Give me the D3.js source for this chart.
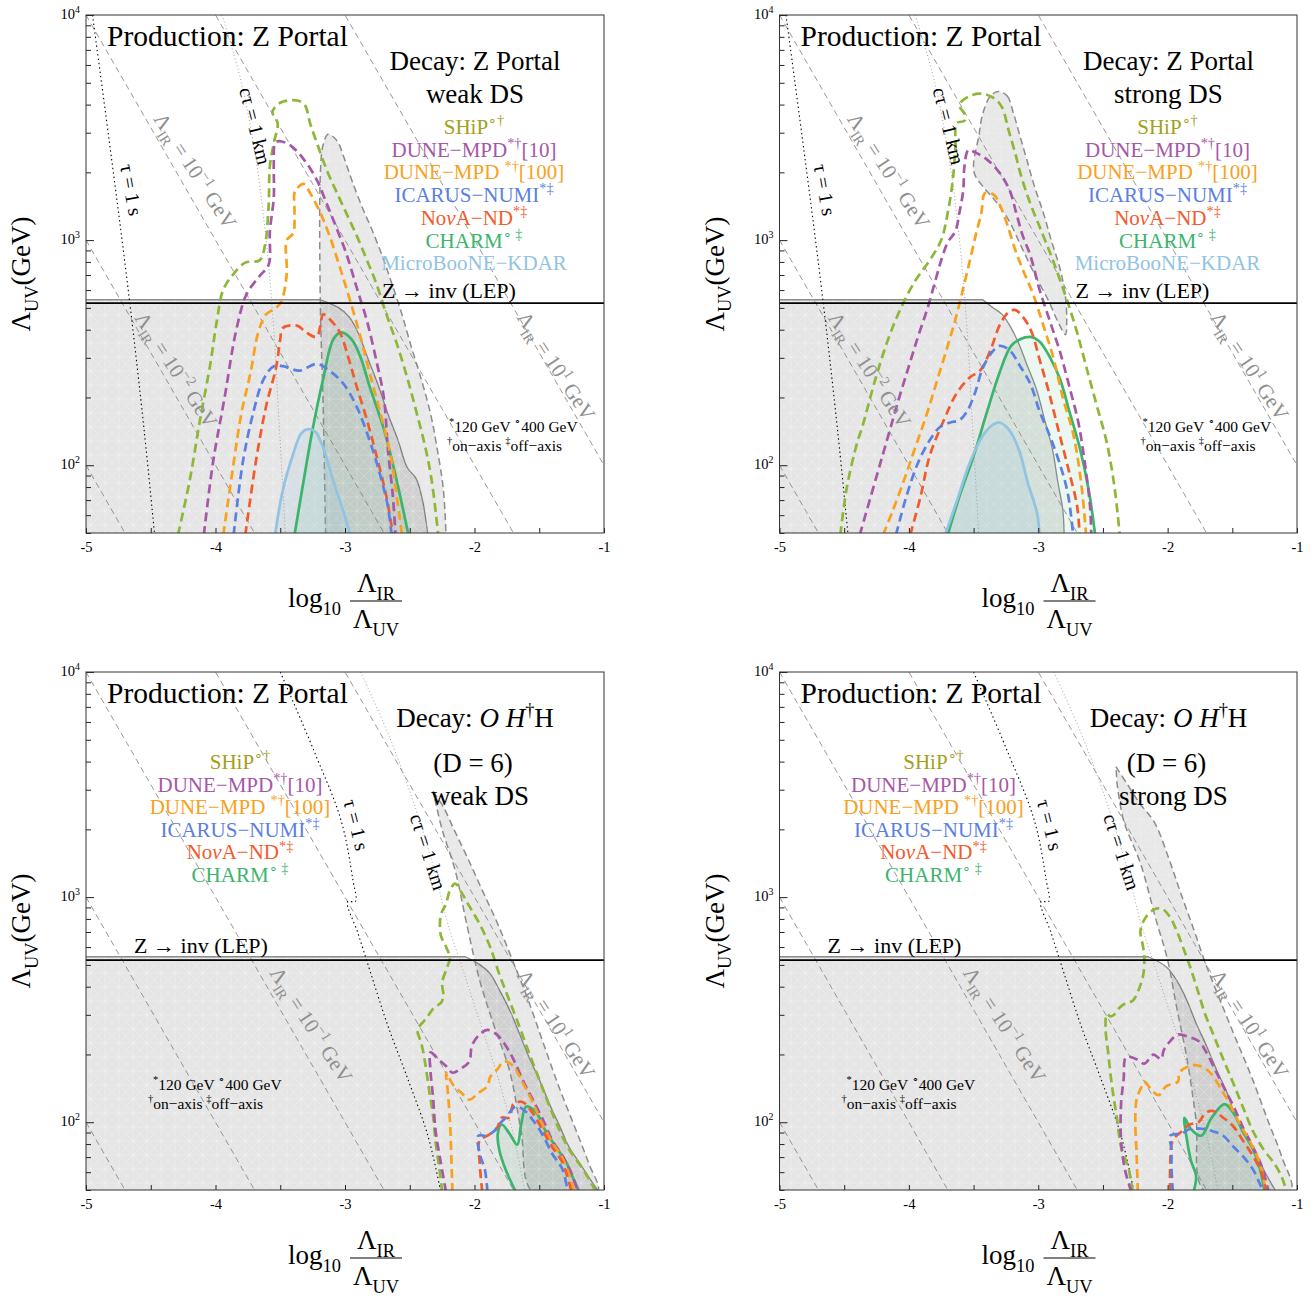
<!DOCTYPE html>
<html>
<head>
<meta charset="utf-8">
<script src="https://cdn.jsdelivr.net/npm/d3@7"></script>
<style>
  body { margin: 0; background: #fff; }
  text { font-family: "Liberation Serif", "Times New Roman", serif; }
</style>
</head>
<body>
<script>
// x = log10(Λ_IR/Λ_UV), y = log10(Λ_UV / GeV)
const xTicks = [-5, -4, -3, -2, -1];
const yDecades = [2, 3, 4];
const irExponents = [-3, -2, -1, 0, 1];   // guide lines Λ_IR = 10^k GeV
const lepLog = 2.72;                      // Z -> inv (LEP) bound
const lepTop = 2.735;                     // top of excluded region

// ---------- top-left: decay Z portal, weak DS
const p1Ship = [[-4.29,1.69],[-4.20,1.93],[-4.12,2.20],[-4.04,2.45],[-3.99,2.64],[-3.94,2.78],[-3.86,2.85],[-3.77,2.90],[-3.66,2.91],[-3.62,2.97],[-3.59,3.15],[-3.58,3.33],[-3.55,3.43],[-3.52,3.52],[-3.56,3.57],[-3.50,3.61],[-3.37,3.62],[-3.31,3.60],[-3.27,3.52],[-3.21,3.42],[-3.14,3.31],[-3.07,3.22],[-2.99,3.12],[-2.91,3.02],[-2.83,2.91],[-2.76,2.81],[-2.68,2.67],[-2.60,2.54],[-2.52,2.39],[-2.45,2.24],[-2.38,2.08],[-2.33,1.93],[-2.28,1.69]];
const p1Dune10 = [[-4.09,1.69],[-4.02,2.01],[-3.93,2.30],[-3.84,2.60],[-3.76,2.76],[-3.66,2.84],[-3.59,2.89],[-3.58,3.04],[-3.55,3.19],[-3.55,3.34],[-3.54,3.43],[-3.51,3.44],[-3.42,3.42],[-3.32,3.36],[-3.22,3.27],[-3.14,3.16],[-3.07,3.06],[-2.99,2.94],[-2.91,2.79],[-2.83,2.64],[-2.76,2.47],[-2.70,2.30],[-2.67,2.08],[-2.63,1.86],[-2.61,1.69]];
const p1Dune100 = [[-3.94,1.69],[-3.86,2.01],[-3.80,2.23],[-3.73,2.41],[-3.67,2.59],[-3.61,2.67],[-3.53,2.70],[-3.49,2.73],[-3.45,2.85],[-3.45,3.00],[-3.40,3.03],[-3.39,3.12],[-3.39,3.21],[-3.37,3.23],[-3.32,3.25],[-3.27,3.21],[-3.19,3.12],[-3.12,3.02],[-3.04,2.88],[-2.96,2.73],[-2.88,2.57],[-2.81,2.41],[-2.73,2.24],[-2.65,2.05],[-2.60,1.86],[-2.56,1.69]];
const p1Icarus = [[-3.86,1.69],[-3.79,2.01],[-3.71,2.23],[-3.63,2.38],[-3.55,2.44],[-3.48,2.44],[-3.35,2.42],[-3.22,2.45],[-3.12,2.42],[-3.01,2.36],[-2.91,2.26],[-2.81,2.11],[-2.73,1.96],[-2.67,1.82],[-2.64,1.69]];
const p1Nova = [[-3.77,1.69],[-3.69,2.01],[-3.61,2.26],[-3.53,2.44],[-3.50,2.56],[-3.48,2.61],[-3.37,2.62],[-3.30,2.59],[-3.22,2.57],[-3.19,2.62],[-3.17,2.67],[-3.12,2.65],[-3.04,2.59],[-2.97,2.47],[-2.91,2.35],[-2.83,2.20],[-2.76,2.05],[-2.68,1.86],[-2.63,1.69]];
const p1Charm = [[-3.39,1.69],[-3.32,1.93],[-3.25,2.16],[-3.17,2.38],[-3.09,2.56],[-3.03,2.59],[-2.95,2.56],[-2.88,2.48],[-2.81,2.35],[-2.70,2.16],[-2.60,1.93],[-2.51,1.69]];
const p1Micro = [[-3.54,1.69],[-3.48,1.89],[-3.40,2.05],[-3.34,2.14],[-3.29,2.16],[-3.23,2.15],[-3.17,2.08],[-3.09,1.93],[-3.01,1.79],[-2.96,1.69]];
const p1Lep = [[-3.19,2.735],[-3.05,2.70],[-2.97,2.66],[-2.90,2.59],[-2.82,2.47],[-2.74,2.35],[-2.67,2.23],[-2.59,2.11],[-2.52,1.99],[-2.45,1.94],[-2.40,1.84],[-2.36,1.69]];
const p1Band = [[-3.15,1.69],[-3.17,2.30],[-3.19,2.70],[-3.19,3.30],[-3.17,3.42],[-3.13,3.47],[-3.06,3.44],[-3.01,3.37],[-2.95,3.27],[-2.87,3.15],[-2.78,3.03],[-2.70,2.91],[-2.64,2.81],[-2.56,2.67],[-2.49,2.53],[-2.41,2.38],[-2.34,2.23],[-2.29,2.08],[-2.24,1.89],[-2.22,1.69]];

// ---------- top-right: decay Z portal, strong DS
const p2Ship = [[-4.53,1.69],[-4.48,1.90],[-4.40,2.10],[-4.36,2.17],[-4.26,2.38],[-4.16,2.56],[-4.06,2.70],[-3.95,2.82],[-3.84,2.91],[-3.75,3.00],[-3.70,3.12],[-3.66,3.27],[-3.64,3.42],[-3.63,3.52],[-3.57,3.53],[-3.57,3.56],[-3.61,3.60],[-3.53,3.64],[-3.43,3.65],[-3.34,3.63],[-3.28,3.59],[-3.23,3.49],[-3.18,3.39],[-3.13,3.28],[-3.06,3.16],[-2.99,3.06],[-2.92,2.96],[-2.88,2.90],[-2.83,2.82],[-2.77,2.72],[-2.70,2.59],[-2.63,2.44],[-2.55,2.27],[-2.47,2.10],[-2.41,1.90],[-2.37,1.69]];
const p2Dune10 = [[-4.38,1.69],[-4.25,1.95],[-4.16,2.13],[-4.08,2.29],[-4.00,2.44],[-3.93,2.57],[-3.86,2.69],[-3.80,2.81],[-3.75,2.91],[-3.70,2.99],[-3.64,3.04],[-3.61,3.12],[-3.58,3.22],[-3.57,3.33],[-3.54,3.40],[-3.49,3.39],[-3.40,3.36],[-3.30,3.30],[-3.22,3.22],[-3.17,3.12],[-3.12,3.02],[-3.06,2.93],[-2.99,2.78],[-2.91,2.64],[-2.83,2.50],[-2.76,2.35],[-2.69,2.19],[-2.64,2.01],[-2.60,1.82],[-2.59,1.69]];
const p2Dune100 = [[-4.20,1.69],[-4.13,1.79],[-4.04,1.93],[-3.95,2.08],[-3.86,2.23],[-3.78,2.38],[-3.70,2.53],[-3.63,2.67],[-3.57,2.81],[-3.52,2.93],[-3.48,3.03],[-3.44,3.12],[-3.41,3.21],[-3.34,3.20],[-3.30,3.16],[-3.24,3.07],[-3.18,2.96],[-3.12,2.87],[-3.04,2.76],[-2.96,2.62],[-2.88,2.47],[-2.81,2.30],[-2.73,2.14],[-2.67,1.93],[-2.63,1.69]];
const p2Icarus = [[-4.10,1.69],[-4.02,1.86],[-3.93,2.01],[-3.84,2.11],[-3.76,2.17],[-3.68,2.19],[-3.61,2.20],[-3.55,2.24],[-3.49,2.32],[-3.43,2.43],[-3.36,2.50],[-3.30,2.53],[-3.22,2.51],[-3.14,2.44],[-3.06,2.36],[-2.99,2.24],[-2.91,2.13],[-2.83,2.00],[-2.77,1.87],[-2.73,1.69]];
const p2Nova = [[-3.99,1.69],[-3.91,1.86],[-3.84,2.04],[-3.73,2.20],[-3.63,2.32],[-3.53,2.39],[-3.45,2.42],[-3.37,2.51],[-3.30,2.62],[-3.23,2.68],[-3.18,2.69],[-3.12,2.66],[-3.05,2.59],[-2.99,2.47],[-2.92,2.33],[-2.85,2.17],[-2.77,1.99],[-2.70,1.82],[-2.68,1.69]];
const p2Charm = [[-3.70,1.69],[-3.61,1.86],[-3.50,2.04],[-3.40,2.23],[-3.30,2.41],[-3.21,2.53],[-3.14,2.56],[-3.06,2.57],[-2.99,2.55],[-2.91,2.48],[-2.83,2.38],[-2.76,2.24],[-2.68,2.08],[-2.61,1.89],[-2.56,1.69]];
const p2Micro = [[-3.72,1.69],[-3.63,1.84],[-3.53,2.01],[-3.43,2.13],[-3.35,2.18],[-3.30,2.19],[-3.23,2.16],[-3.15,2.07],[-3.08,1.92],[-3.01,1.79],[-2.99,1.69]];
const p2Lep = [[-3.43,2.735],[-3.35,2.70],[-3.28,2.67],[-3.22,2.62],[-3.15,2.54],[-3.09,2.45],[-3.01,2.33],[-2.95,2.20],[-2.89,2.07],[-2.85,1.93],[-2.81,1.80],[-2.80,1.69]];
const p2Band = [[-3.31,3.66],[-3.24,3.64],[-3.19,3.56],[-3.14,3.46],[-3.09,3.36],[-3.03,3.24],[-2.96,3.12],[-2.90,3.00],[-2.83,2.87],[-2.79,2.75],[-2.78,2.64],[-2.79,2.58],[-2.85,2.64],[-2.92,2.73],[-3.03,2.85],[-3.13,2.97],[-3.23,3.09],[-3.34,3.18],[-3.43,3.24],[-3.49,3.29],[-3.50,3.34],[-3.46,3.46],[-3.43,3.56],[-3.37,3.64]];

// ---------- bottom-left: decay O H†H (D = 6), weak DS
const p3Ship = [[-2.25,1.69],[-2.27,1.79],[-2.30,1.91],[-2.32,2.03],[-2.35,2.14],[-2.38,2.26],[-2.41,2.35],[-2.44,2.41],[-2.39,2.45],[-2.35,2.48],[-2.31,2.51],[-2.26,2.53],[-2.24,2.56],[-2.25,2.62],[-2.21,2.69],[-2.19,2.73],[-2.22,2.78],[-2.26,2.83],[-2.26,2.92],[-2.22,2.97],[-2.19,3.03],[-2.15,3.06],[-2.10,3.02],[-2.04,2.96],[-1.96,2.88],[-1.88,2.78],[-1.81,2.66],[-1.73,2.54],[-1.65,2.42],[-1.58,2.31],[-1.50,2.19],[-1.42,2.07],[-1.34,1.96],[-1.27,1.88],[-1.16,1.79],[-1.10,1.73],[-1.06,1.69]];
const p3Dune10 = [[-2.22,1.69],[-2.26,1.82],[-2.30,1.96],[-2.32,2.11],[-2.34,2.23],[-2.34,2.31],[-2.28,2.28],[-2.22,2.25],[-2.17,2.22],[-2.10,2.24],[-2.04,2.27],[-2.02,2.34],[-1.96,2.39],[-1.90,2.41],[-1.83,2.39],[-1.77,2.35],[-1.70,2.28],[-1.63,2.19],[-1.55,2.10],[-1.47,2.01],[-1.40,1.92],[-1.32,1.85],[-1.25,1.77],[-1.20,1.69]];
const p3Dune100 = [[-2.17,1.69],[-2.18,1.86],[-2.19,2.01],[-2.21,2.16],[-2.22,2.22],[-2.17,2.17],[-2.10,2.13],[-2.04,2.10],[-1.97,2.13],[-1.90,2.16],[-1.88,2.20],[-1.83,2.23],[-1.77,2.27],[-1.70,2.25],[-1.64,2.19],[-1.56,2.10],[-1.49,2.01],[-1.41,1.92],[-1.33,1.85],[-1.27,1.77],[-1.23,1.69]];
const p3Icarus = [[-1.90,1.69],[-1.92,1.79],[-1.96,1.86],[-1.97,1.94],[-1.91,1.94],[-1.85,1.96],[-1.81,1.99],[-1.76,2.02],[-1.68,2.07],[-1.61,2.05],[-1.55,2.01],[-1.47,1.94],[-1.40,1.86],[-1.32,1.79],[-1.28,1.69]];
const p3Nova = [[-1.94,1.69],[-1.96,1.82],[-1.96,1.92],[-1.90,1.94],[-1.83,1.97],[-1.79,2.02],[-1.73,2.02],[-1.70,2.08],[-1.63,2.09],[-1.55,2.04],[-1.47,1.96],[-1.40,1.89],[-1.32,1.82],[-1.25,1.69]];
const p3Charm = [[-1.68,1.69],[-1.76,1.79],[-1.81,1.88],[-1.82,1.95],[-1.79,1.99],[-1.73,1.95],[-1.67,1.90],[-1.64,1.99],[-1.60,2.07],[-1.52,2.04],[-1.45,1.96],[-1.37,1.89],[-1.29,1.82],[-1.23,1.74],[-1.19,1.69]];
const p3Lep = [[-2.07,2.735],[-1.96,2.70],[-1.88,2.66],[-1.81,2.59],[-1.73,2.50],[-1.65,2.39],[-1.58,2.29],[-1.50,2.19],[-1.42,2.08],[-1.34,1.98],[-1.27,1.89],[-1.19,1.82],[-1.11,1.75],[-1.04,1.69]];
const p3Band = [[-2.32,3.47],[-2.24,3.40],[-2.15,3.29],[-2.05,3.17],[-1.94,3.03],[-1.82,2.88],[-1.70,2.71],[-1.59,2.55],[-1.48,2.37],[-1.35,2.16],[-1.22,1.97],[-1.12,1.82],[-1.05,1.69],[-1.55,1.69],[-1.64,1.96],[-1.73,2.23],[-1.85,2.43],[-1.96,2.63],[-2.06,2.88],[-2.15,3.12],[-2.25,3.30],[-2.30,3.42]];

// ---------- bottom-right: decay O H†H (D = 6), strong DS
const p4Ship = [[-2.27,1.69],[-2.30,1.79],[-2.36,1.89],[-2.39,2.01],[-2.43,2.16],[-2.46,2.31],[-2.48,2.42],[-2.47,2.48],[-2.44,2.47],[-2.41,2.48],[-2.37,2.51],[-2.32,2.53],[-2.27,2.54],[-2.23,2.58],[-2.19,2.65],[-2.18,2.72],[-2.19,2.78],[-2.21,2.85],[-2.18,2.90],[-2.12,2.94],[-2.05,2.95],[-1.98,2.91],[-1.93,2.85],[-1.87,2.76],[-1.82,2.68],[-1.77,2.59],[-1.71,2.48],[-1.64,2.38],[-1.57,2.28],[-1.49,2.17],[-1.42,2.07],[-1.34,1.96],[-1.26,1.88],[-1.18,1.82],[-1.12,1.76],[-1.08,1.69]];
const p4Dune10 = [[-2.28,1.69],[-2.33,1.79],[-2.36,1.92],[-2.36,2.08],[-2.34,2.19],[-2.32,2.29],[-2.24,2.28],[-2.18,2.26],[-2.11,2.30],[-2.05,2.28],[-2.03,2.32],[-1.98,2.36],[-1.92,2.39],[-1.84,2.38],[-1.76,2.36],[-1.70,2.31],[-1.63,2.23],[-1.57,2.16],[-1.49,2.07],[-1.42,1.98],[-1.34,1.89],[-1.27,1.80],[-1.22,1.69]];
const p4Dune100 = [[-2.23,1.69],[-2.24,1.86],[-2.25,2.01],[-2.24,2.10],[-2.20,2.16],[-2.18,2.18],[-2.12,2.14],[-2.07,2.12],[-2.01,2.16],[-1.92,2.18],[-1.91,2.22],[-1.83,2.25],[-1.75,2.25],[-1.67,2.22],[-1.60,2.16],[-1.52,2.08],[-1.44,1.99],[-1.36,1.91],[-1.29,1.82],[-1.24,1.69]];
const p4Icarus = [[-1.96,1.69],[-1.97,1.80],[-1.97,1.88],[-1.98,1.94],[-1.89,1.95],[-1.83,1.97],[-1.72,1.97],[-1.65,1.96],[-1.57,1.94],[-1.49,1.89],[-1.42,1.85],[-1.34,1.79],[-1.29,1.73],[-1.26,1.69]];
const p4Nova = [[-1.98,1.69],[-1.98,1.82],[-1.96,1.92],[-1.89,1.96],[-1.83,1.99],[-1.76,2.00],[-1.71,2.04],[-1.65,2.05],[-1.57,2.02],[-1.49,1.98],[-1.42,1.92],[-1.34,1.85],[-1.27,1.77],[-1.24,1.69]];
const p4Charm = [[-1.80,1.69],[-1.78,1.76],[-1.82,1.83],[-1.85,1.92],[-1.87,2.02],[-1.82,1.97],[-1.74,1.94],[-1.66,2.02],[-1.56,2.08],[-1.49,2.04],[-1.42,1.96],[-1.34,1.88],[-1.29,1.80],[-1.25,1.69]];
const p4Lep = [[-2.15,2.735],[-2.01,2.69],[-1.93,2.63],[-1.85,2.54],[-1.78,2.44],[-1.70,2.34],[-1.62,2.23],[-1.54,2.13],[-1.47,2.02],[-1.39,1.94],[-1.31,1.85],[-1.24,1.77],[-1.16,1.69]];
const p4Band = [[-2.40,3.58],[-2.31,3.50],[-2.22,3.42],[-2.10,3.33],[-1.99,3.17],[-1.90,3.02],[-1.80,2.86],[-1.71,2.71],[-1.60,2.55],[-1.48,2.38],[-1.35,2.20],[-1.22,2.00],[-1.12,1.85],[-1.05,1.69],[-1.71,1.69],[-1.78,2.01],[-1.85,2.28],[-1.93,2.51],[-2.00,2.72],[-2.09,2.90],[-2.21,3.15],[-2.34,3.34],[-2.39,3.50]];

// lifetime guide lines
const tauZ = [[-4.95,4.0],[-4.80,3.35],[-4.67,2.76],[-4.55,2.15],[-4.47,1.69]];
const ctauZ = [[-3.95,4.0],[-3.80,3.70],[-3.68,3.33],[-3.60,2.95],[-3.55,2.60],[-3.51,2.20],[-3.46,1.69]];
const tauH = [[-3.50,4.0],[-3.24,3.65],[-3.03,3.34],[-2.94,3.08],[-2.92,2.98],[-2.98,2.98],[-2.90,2.84],[-2.80,2.66],[-2.67,2.43],[-2.52,2.20],[-2.36,1.94],[-2.26,1.69]];
const ctauH = [[-2.88,4.0],[-2.67,3.73],[-2.47,3.42],[-2.31,3.12],[-2.21,2.89],[-2.08,2.66],[-1.95,2.43],[-1.82,2.20],[-1.69,1.92],[-1.61,1.69]];

const COLORS = {ship:'#8db737', dune10:'#a657a8', dune100:'#f9a11c', icarus:'#5b80e2', nova:'#f15b2d', charm:'#3bb46c', micro:'#92c3e2'};
const TEXT_COLORS = Object.assign({}, COLORS, {ship:'#a1a11a'});
const LEGEND = {
  ship: [['SHiP',''],['∘†','sup']],
  dune10: [['DUNE−MPD',''],['*†','sup'],['[10]','']],
  dune100: [['DUNE−MPD ',''],['*†','sup'],['[100]','']],
  icarus: [['ICARUS−NUMI',''],['*‡','sup']],
  nova: [['No',''],['ν','it'],['A−ND',''],['*‡','sup']],
  charm: [['CHARM',''],['∘ ‡','sup']],
  micro: [['MicroBooNE−KDAR','']]
};

const panels = [
  {ox:86, oy:15, w:518, kind:'Z', ds:'weak DS',
   s:{ship:p1Ship, dune10:p1Dune10, dune100:p1Dune100, icarus:p1Icarus, nova:p1Nova, charm:p1Charm, micro:p1Micro},
   lep:p1Lep, band:p1Band, bandClosed:false},
  {ox:779.5, oy:15, w:517.5, kind:'Z', ds:'strong DS',
   s:{ship:p2Ship, dune10:p2Dune10, dune100:p2Dune100, icarus:p2Icarus, nova:p2Nova, charm:p2Charm, micro:p2Micro},
   lep:p2Lep, band:p2Band, bandClosed:true},
  {ox:86, oy:672, w:518, kind:'H', ds:'weak DS',
   s:{ship:p3Ship, dune10:p3Dune10, dune100:p3Dune100, icarus:p3Icarus, nova:p3Nova, charm:p3Charm},
   lep:p3Lep, band:p3Band, bandClosed:false},
  {ox:779.5, oy:672, w:517.5, kind:'H', ds:'strong DS',
   s:{ship:p4Ship, dune10:p4Dune10, dune100:p4Dune100, icarus:p4Icarus, nova:p4Nova, charm:p4Charm},
   lep:p4Lep, band:p4Band, bandClosed:false}
];

const svg = d3.select('body').append('svg').attr('width', 1313).attr('height', 1300);
const defs = svg.append('defs');
const pat = defs.append('pattern').attr('id', 'hatch').attr('patternUnits', 'userSpaceOnUse')
  .attr('width', 14).attr('height', 14);
pat.append('path').attr('d', 'M0,14L14,0M-2,2L2,-2M12,16L16,12M0,0L14,14M7,0V14M0,7H14')
  .attr('stroke', '#fff').attr('stroke-width', 0.6).attr('opacity', 0.4).attr('fill', 'none');

// text with sub/superscripts: parts = [[string, ''|'sub'|'sup'|'it']]
function rich(el, parts, size) {
  let cur = 0;
  parts.forEach(([s, k]) => {
    const t = el.append('tspan').text(s);
    const target = k === 'sub' ? 0.28 * size : k === 'sup' ? -0.42 * size : 0;
    if (target !== cur) t.attr('dy', (target - cur).toFixed(2));
    cur = target;
    if (k === 'sub' || k === 'sup') t.attr('font-size', (0.68 * size).toFixed(1));
    if (k === 'it') t.attr('font-style', 'italic');
  });
  return el;
}
function label(g, x, y, parts, size, o = {}) {
  const t = g.append('text').attr('x', x).attr('y', y).attr('font-size', size)
    .attr('fill', o.fill || '#000').attr('text-anchor', o.anchor || 'start');
  return rich(t, parts, size);
}
function rotLabel(g, cx, cy, parts, size, angle, fill) {
  const t = g.append('text').attr('x', cx).attr('y', cy + 0.33 * size).attr('font-size', size)
    .attr('fill', fill).attr('text-anchor', 'middle')
    .attr('transform', `rotate(${angle},${cx},${cy})`);
  return rich(t, parts, size);
}

panels.forEach((p, i) => {
  const x = d3.scaleLinear().domain([-5, -1]).range([p.ox, p.ox + p.w]);
  const y = d3.scaleLinear().domain([Math.log10(50), 4]).range([p.oy + 518, p.oy]);
  const yBot = y.domain()[0];
  const g = svg.append('g');
  const cid = 'clip' + i;
  defs.append('clipPath').attr('id', cid).append('rect')
    .attr('x', x(-5)).attr('y', y(4)).attr('width', x(-1) - x(-5)).attr('height', y(yBot) - y(4));
  const pg = g.append('g').attr('clip-path', `url(#${cid})`);
  const smooth = d3.line().x(d => x(d[0])).y(d => y(d[1])).curve(d3.curveCatmullRom.alpha(0.5));
  const straight = d3.line().x(d => x(d[0])).y(d => y(d[1]));

  // excluded region below the LEP bound
  const edge = smooth(p.lep);
  const last = p.lep[p.lep.length - 1];
  const regionD = `M${x(-5.1)},${y(lepTop)}L` + edge.slice(1) +
    `L${x(last[0])},${y(yBot - 0.1)}L${x(-5.1)},${y(yBot - 0.1)}Z`;
  pg.append('path').attr('d', regionD).attr('fill', 'rgba(0,0,0,0.1)');
  pg.append('path').attr('d', regionD).attr('fill', 'url(#hatch)');
  pg.append('path').attr('d', `M${x(-5.1)},${y(lepTop)}L` + edge.slice(1))
    .attr('fill', 'none').attr('stroke', '#8a8a8a').attr('stroke-width', 1.3);

  // grey dashed band
  const bandLine = p.bandClosed ? d3.line().x(d => x(d[0])).y(d => y(d[1])).curve(d3.curveCatmullRomClosed.alpha(0.5)) : smooth;
  const bandD = bandLine(p.band) + (p.bandClosed ? '' : 'Z');
  pg.append('path').attr('d', bandD).attr('fill', 'rgba(0,0,0,0.09)');
  pg.append('path').attr('d', bandD).attr('fill', 'url(#hatch)').attr('opacity', 0.6);
  pg.append('path').attr('d', bandD).attr('fill', 'none').attr('stroke', '#8c8c8c')
    .attr('stroke-width', 1.5).attr('stroke-dasharray', '7,4');

  // filled regions
  pg.append('path').attr('d', smooth(p.s.charm) + 'Z').attr('fill', 'rgba(59,180,108,0.10)');
  if (p.s.micro) pg.append('path').attr('d', smooth(p.s.micro) + 'Z').attr('fill', 'rgba(146,195,226,0.16)');

  // Λ_IR guide lines
  irExponents.forEach(k => {
    pg.append('path').attr('d', straight([[-5, k + 5], [-1, k + 1]]))
      .attr('fill', 'none').attr('stroke', '#7d7d7d').attr('stroke-width', 0.8).attr('stroke-dasharray', '6,4');
  });
  // lifetime lines
  const tau = p.kind === 'Z' ? tauZ : tauH, ctau = p.kind === 'Z' ? ctauZ : ctauH;
  pg.append('path').attr('d', smooth(tau)).attr('fill', 'none').attr('stroke', '#000')
    .attr('stroke-width', 1.1).attr('stroke-dasharray', '1.4,3');
  pg.append('path').attr('d', smooth(ctau)).attr('fill', 'none').attr('stroke', '#999')
    .attr('stroke-width', 0.9).attr('stroke-dasharray', '1,2.5');

  // experiment contours
  ['charm', 'micro'].forEach(k => {
    if (!p.s[k]) return;
    pg.append('path').attr('d', smooth(p.s[k])).attr('fill', 'none').attr('stroke', COLORS[k])
      .attr('stroke-width', 2.7);
  });
  ['ship', 'dune10', 'dune100', 'nova', 'icarus'].forEach(k => {
    pg.append('path').attr('d', smooth(p.s[k])).attr('fill', 'none').attr('stroke', COLORS[k])
      .attr('stroke-width', 2.7).attr('stroke-dasharray', '9,5');
  });

  // LEP line
  g.append('line').attr('x1', x(-5)).attr('x2', x(-1)).attr('y1', y(lepLog)).attr('y2', y(lepLog))
    .attr('stroke', '#000').attr('stroke-width', 1.6);

  // axes
  const xa = g.append('g').attr('transform', `translate(0,${y(yBot)})`)
    .call(d3.axisBottom(x).tickValues(d3.range(-5, -0.99, 0.5)).tickSize(-5).tickPadding(9)
      .tickFormat(d => Number.isInteger(d) ? String(d) : ''));
  xa.select('.domain').remove();
  xa.selectAll('line').attr('stroke', '#222');
  xa.selectAll('text').attr('font-size', 14.5).attr('font-family', '"Liberation Serif", serif').attr('fill', '#000');

  const minor = [];
  [1, 2, 3].forEach(n => d3.range(2, 10).forEach(m => {
    const v = n + Math.log10(m);
    if (v >= yBot && v < 4) minor.push(v);
  }));
  const ya = g.append('g').attr('transform', `translate(${x(-5)},0)`)
    .call(d3.axisLeft(y).tickValues(minor).tickSize(-5).tickFormat(''));
  ya.select('.domain').remove();
  ya.selectAll('line').attr('stroke', '#222');
  const yb = g.append('g').attr('transform', `translate(${x(-5)},0)`)
    .call(d3.axisLeft(y).tickValues(yDecades).tickSize(-8).tickPadding(7).tickFormat(''));
  yb.select('.domain').remove();
  yb.selectAll('line').attr('stroke', '#222');
  yDecades.forEach(d => {
    label(g, x(-5) - 6, y(d) + 4, [['10', ''], [String(d), 'sup']], 14.5, {anchor: 'end'});
  });

  g.append('rect').attr('x', x(-5)).attr('y', y(4)).attr('width', x(-1) - x(-5)).attr('height', y(yBot) - y(4))
    .attr('fill', 'none').attr('stroke', '#333').attr('stroke-width', 1);

  // axis titles
  label(g, p.ox - 56, 0, [['Λ', ''], ['UV', 'sub'], ['(GeV)', '']], 27, {anchor: 'middle'})
    .attr('transform', `translate(0,${p.oy + 259}) rotate(-90,${p.ox - 56},0)`)
    .attr('x', p.ox - 56).attr('y', 0);
  const tx = p.ox + 202, ty = p.oy + 592;
  label(g, tx, ty, [['log', ''], ['10', 'sub']], 27);
  label(g, tx + 88, ty - 15, [['Λ', ''], ['IR', 'sub']], 27, {anchor: 'middle'});
  label(g, tx + 88, ty + 21, [['Λ', ''], ['UV', 'sub']], 27, {anchor: 'middle'});
  g.append('line').attr('x1', tx + 62).attr('x2', tx + 114).attr('y1', ty - 6).attr('y2', ty - 6)
    .attr('stroke', '#000').attr('stroke-width', 1);

  // panel texts
  const ox = p.ox, oy = p.oy, grey = '#8f8f8f';
  label(g, ox + 21, oy + 31, [['Production: Z Portal', '']], 29.5);
  const irTxt = e => [['Λ', ''], ['IR', 'sub'], [' = 10', ''], [e, 'sup'], [' GeV', '']];
  if (p.kind === 'Z') {
    label(g, ox + 389, oy + 55, [['Decay: Z Portal', '']], 27, {anchor: 'middle'});
    label(g, ox + 389, oy + 88, [[p.ds, '']], 27, {anchor: 'middle'});
    ['ship', 'dune10', 'dune100', 'icarus', 'nova', 'charm', 'micro'].forEach((k, j) => {
      label(g, ox + 388, oy + 119 + j * 22.7, LEGEND[k], 21, {anchor: 'middle', fill: TEXT_COLORS[k]});
    });
    label(g, ox + 363, oy + 283, [['Z → inv (LEP)', '']], 22, {anchor: 'middle'});
    label(g, ox + 363, oy + 417, [['*', 'sup'], ['120 GeV   ', ''], ['∘', 'sup'], ['400 GeV', '']], 15.5);
    label(g, ox + 361, oy + 436, [['†', 'sup'], ['on−axis   ', ''], ['‡', 'sup'], ['off−axis', '']], 15.5);
    rotLabel(g, ox + 45, oy + 175, [['τ = 1 s', '']], 20, 80, '#000');
    rotLabel(g, ox + 169, oy + 111, [['cτ = 1 km', '']], 20, 76, '#000');
    rotLabel(g, ox + 109, oy + 156, irTxt('−1'), 21, 57, grey);
    rotLabel(g, ox + 90, oy + 355, irTxt('−2'), 21, 57, grey);
    rotLabel(g, ox + 470, oy + 351, irTxt('1'), 21, 57, grey);
  } else {
    label(g, ox + 389, oy + 55, [['Decay: ', ''], ['O', 'it'], [' ', ''], ['H', 'it'], ['†', 'sup'], ['H', '']], 27, {anchor: 'middle'});
    label(g, ox + 387, oy + 100, [['(D = 6)', '']], 27, {anchor: 'middle'});
    label(g, ox + 394, oy + 133, [[p.ds, '']], 27, {anchor: 'middle'});
    ['ship', 'dune10', 'dune100', 'icarus', 'nova', 'charm'].forEach((k, j) => {
      label(g, ox + 154, oy + 97 + j * 22.6, LEGEND[k], 21, {anchor: 'middle', fill: TEXT_COLORS[k]});
    });
    label(g, ox + 115, oy + 281, [['Z → inv (LEP)', '']], 22, {anchor: 'middle'});
    label(g, ox + 67, oy + 418, [['*', 'sup'], ['120 GeV   ', ''], ['∘', 'sup'], ['400 GeV', '']], 15.5);
    label(g, ox + 62, oy + 437, [['†', 'sup'], ['on−axis   ', ''], ['‡', 'sup'], ['off−axis', '']], 15.5);
    rotLabel(g, ox + 270, oy + 153, [['τ = 1 s', '']], 20, 76, '#000');
    rotLabel(g, ox + 342, oy + 180, [['cτ = 1 km', '']], 20, 72, '#000');
    rotLabel(g, ox + 225, oy + 353, irTxt('−1'), 21, 57, grey);
    rotLabel(g, ox + 470, oy + 352, irTxt('1'), 21, 57, grey);
  }
});
</script>
</body>
</html>
